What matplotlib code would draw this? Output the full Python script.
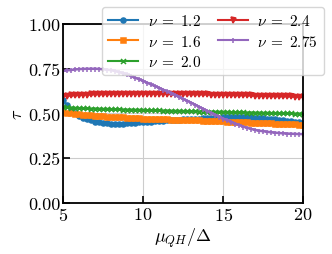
import numpy as np
import matplotlib
matplotlib.use("Agg")
import matplotlib.pyplot as plt

plt.rcParams["font.family"] = "serif"
plt.rcParams["font.serif"] = ["cmr10"]
plt.rcParams["mathtext.fontset"] = "cm"
plt.rcParams["axes.formatter.use_mathtext"] = True

# ==========================
# DATA
# ==========================
mu = np.arange(5.0, 20.01, 0.25)

tau_12 = [0.575, 0.545, 0.520, 0.501,
          0.487, 0.477, 0.468, 0.461,
          0.455, 0.451, 0.447, 0.445,
          0.444, 0.443, 0.443, 0.444,
          0.446, 0.447, 0.449, 0.450,
          0.452, 0.453, 0.455, 0.456,
          0.458, 0.459, 0.461, 0.462,
          0.464, 0.465, 0.467, 0.468,
          0.470, 0.471, 0.472, 0.474,
          0.475, 0.476, 0.476, 0.477,
          0.478, 0.478, 0.479, 0.479,
          0.479, 0.479, 0.479, 0.478,
          0.477, 0.476, 0.474, 0.472,
          0.470, 0.468, 0.465, 0.463,
          0.460, 0.457, 0.454, 0.451,
          0.448]

tau_16 = [0.506, 0.503, 0.500, 0.497,
          0.495, 0.493, 0.491, 0.490,
          0.488, 0.486, 0.485, 0.483,
          0.482, 0.481, 0.479, 0.478,
          0.477, 0.476, 0.475, 0.474,
          0.472, 0.471, 0.471, 0.470,
          0.469, 0.468, 0.467, 0.466,
          0.465, 0.465, 0.464, 0.463,
          0.462, 0.461, 0.461, 0.460,
          0.459, 0.458, 0.457, 0.456,
          0.456, 0.455, 0.454, 0.453,
          0.452, 0.451, 0.450, 0.449,
          0.449, 0.448, 0.447, 0.446,
          0.445, 0.444, 0.443, 0.442,
          0.441, 0.440, 0.439, 0.438,
          0.437]

tau_20 = [0.536, 0.534, 0.533, 0.531,
          0.530, 0.529, 0.528, 0.527,
          0.527, 0.526, 0.525, 0.525,
          0.524, 0.523, 0.523, 0.522,
          0.521, 0.521, 0.520, 0.520,
          0.519, 0.518, 0.518, 0.517,
          0.517, 0.516, 0.516, 0.515,
          0.514, 0.514, 0.513, 0.513,
          0.512, 0.512, 0.511, 0.511,
          0.510, 0.510, 0.509, 0.509,
          0.508, 0.508, 0.507, 0.507,
          0.506, 0.506, 0.505, 0.505,
          0.504, 0.504, 0.503, 0.503,
          0.502, 0.502, 0.501, 0.501,
          0.500, 0.500, 0.499, 0.499,
          0.498]

tau_24 = [0.598, 0.600, 0.601, 0.603,
          0.604, 0.605, 0.606, 0.607,
          0.608, 0.608, 0.609, 0.609,
          0.610, 0.610, 0.610, 0.611,
          0.611, 0.611, 0.611, 0.611,
          0.611, 0.611, 0.611, 0.611,
          0.610, 0.610, 0.610, 0.610,
          0.610, 0.609, 0.609, 0.609,
          0.608, 0.608, 0.608, 0.607,
          0.607, 0.606, 0.606, 0.605,
          0.605, 0.604, 0.604, 0.603,
          0.603, 0.602, 0.602, 0.601,
          0.600, 0.600, 0.599, 0.599,
          0.598, 0.597, 0.597, 0.596,
          0.596, 0.595, 0.594, 0.594,
          0.593]

tau_275 = [0.738, 0.741, 0.743, 0.746,
           0.748, 0.749, 0.750, 0.750,
           0.750, 0.749, 0.747, 0.745,
           0.742, 0.737, 0.731, 0.725,
           0.718, 0.709, 0.700, 0.691,
           0.682, 0.672, 0.662, 0.653,
           0.643, 0.633, 0.623, 0.613,
           0.603, 0.592, 0.581, 0.571,
           0.560, 0.549, 0.537, 0.526,
           0.515, 0.504, 0.493, 0.483,
           0.472, 0.462, 0.453, 0.444,
           0.435, 0.427, 0.420, 0.414,
           0.408, 0.404, 0.401, 0.398,
           0.395, 0.393, 0.391, 0.389,
           0.388, 0.387, 0.386, 0.385,
           0.385]

nu_labels = ["1.2", "1.6", "2.0", "2.4", "2.75"]
series = [tau_12, tau_16, tau_20, tau_24, tau_275]
markers = ["o", "s", "x", "v", "+"]
colors = ["#1f77b4", "#ff7f0e", "#2ca02c", "#d62728", "#9467bd"]

# ==========================
# PLOT
# ==========================
fig = plt.figure(figsize=(3.32, 2.55), dpi=100)
ax = fig.add_axes([0.19, 0.2, 0.723, 0.702])

for lab, ys, m, c in zip(nu_labels, series, markers, colors):
    ax.plot(mu, ys, marker=m, color=c, lw=1.8, ms=3.6, mew=1.1,
            label=rf"$\nu\;=\;{lab}$")

ax.set_xlim(5, 20)
ax.set_ylim(0, 1)
ax.set_xticks([5, 10, 15, 20])
ax.set_yticks([0, 0.25, 0.5, 0.75, 1.0])
ax.set_yticklabels(["0.00", "0.25", "0.50", "0.75", "1.00"])
ax.tick_params(direction="in", length=5, width=1.2, labelsize=13, pad=2)
ax.grid(True, color="#cccccc", lw=0.8)
for sp in ax.spines.values():
    sp.set_linewidth(1.3)

ax.set_xlabel(r"$\mu_{QH}/\Delta$", fontsize=13, labelpad=2)
ax.set_ylabel(r"$\tau$", fontsize=13, labelpad=2)

leg = ax.legend(ncol=2, fontsize=11, loc="upper right",
                bbox_to_anchor=(0.976, 0.968), bbox_transform=fig.transFigure,
                borderaxespad=0, handlelength=2.0, columnspacing=1.1,
                borderpad=0.4, labelspacing=0.35, handletextpad=0.6)
for h in leg.legend_handles:
    h.set_linewidth(1.5)

fig.savefig("out.png", dpi=100)
